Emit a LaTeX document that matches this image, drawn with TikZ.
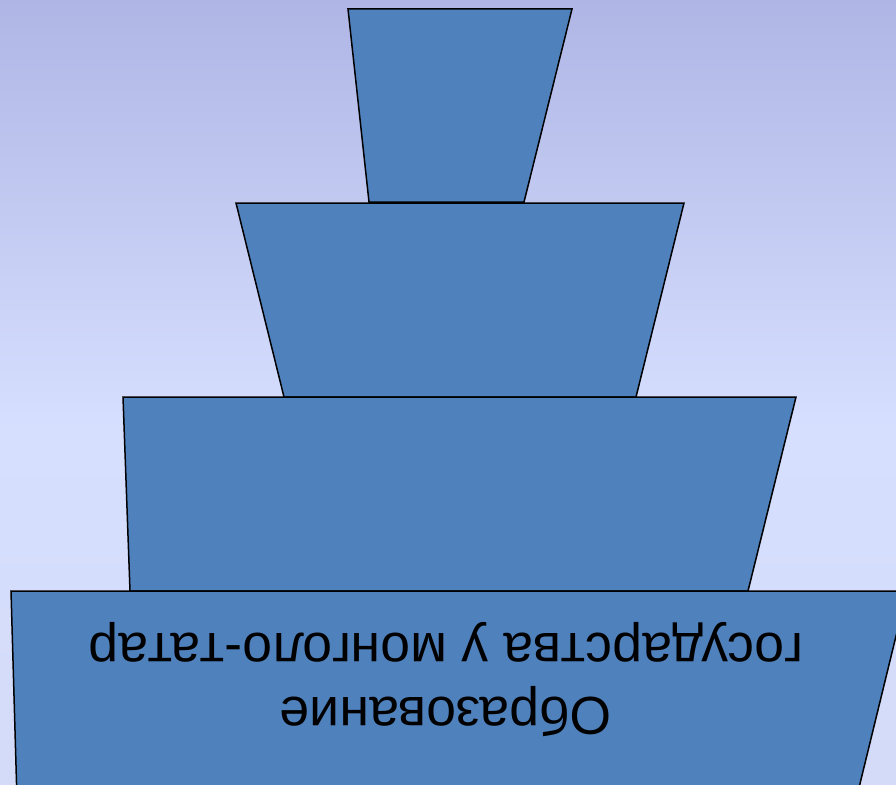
\documentclass[tikz,border=0pt]{standalone}
\usepackage{fontspec}
\setmainfont{Liberation Sans}
\usepackage{xcolor}
\definecolor{bgtop}{HTML}{AFB6E5}
\definecolor{bgmid}{HTML}{D7DFFF}
\definecolor{bgbot}{HTML}{D3DBF8}
\definecolor{tierblue}{HTML}{4F81BD}
\tikzset{tier/.style={fill=tierblue,draw=black,line width=1.5pt,line join=miter}}
\begin{document}
\begin{tikzpicture}[x=1pt,y=-1pt]
\useasboundingbox (0,0) rectangle (896,784);
\clip (0,0) rectangle (896,784);
% background: lavender at the top, lighter towards the middle
\shade[top color=bgtop,bottom color=bgmid] (0,0) rectangle (896,430);
\shade[top color=bgmid,bottom color=bgbot] (0,430) rectangle (896,784);
% tiers, narrow at the top
\draw[tier] (348,9) -- (572,9) -- (524,202) -- (369,202) -- cycle;
\draw[tier] (236,203) -- (684,203) -- (636,397) -- (284,397) -- cycle;
\draw[tier] (123,397) -- (796,397) -- (748,591) -- (130,591) -- cycle;
\draw[tier] (11,591) -- (907,591) -- (856,800) -- (17,800) -- cycle;
\node[rotate=180,align=center,font=\fontsize{53.5}{64}\selectfont] (title) at (446,680)
  {Образование\\государства у монголо-татар};
\end{tikzpicture}
\end{document}
